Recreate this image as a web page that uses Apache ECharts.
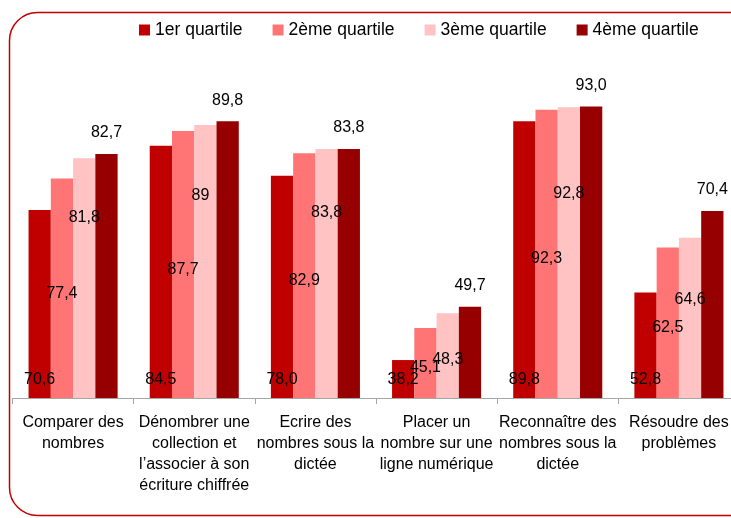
<!DOCTYPE html>
<html>
<head>
<meta charset="utf-8">
<script src="https://cdn.jsdelivr.net/npm/echarts@6/dist/echarts.min.js"></script>
<style>
  html, body { margin: 0; padding: 0; background: #fff; }
  #chart { width: 731px; height: 518px; }
</style>
</head>
<body>
<div id="chart"></div>
<script>
// categories (line breaks as in the source)
const categories = [
  "Comparer des\nnombres",
  "Dénombrer une\ncollection et\nl’associer à son\nécriture chiffrée",
  "Ecrire des\nnombres sous la\ndictée",
  "Placer un\nnombre sur une\nligne numérique",
  "Reconnaître des\nnombres sous la\ndictée",
  "Résoudre des\nproblèmes"
];
const seriesNames = ["1er quartile", "2ème quartile", "3ème quartile", "4ème quartile"];
const q1 = [70.6, 84.5, 78.0, 38.2, 89.8, 52.8];
const q2 = [77.4, 87.7, 82.9, 45.1, 92.3, 62.5];
const q3 = [81.8, 89.0, 83.8, 48.3, 92.8, 64.6];
const q4 = [82.7, 89.8, 83.8, 49.7, 93.0, 70.4];
// label text as printed in the source
const q3Text = ["81,8", "89", "83,8", "48,3", "92,8", "64,6"];

// where the 3rd quartile labels sit (offset from bar middle, px)
const q3LabelShift = [[0, -61], [-5, -66], [0, -61], [0, 4], [0, -59], [0, -18]];

const colors = ["#C00000", "#FF7575", "#FFC3C3", "#960000"];
const font = "'Liberation Sans', Arial, sans-serif";

const fmt = (v) => v.toFixed(1).replace(".", ",");

const chart = echarts.init(document.getElementById("chart"));

const baseLabel = {
  show: true,
  color: "#000",
  fontFamily: font,
  fontSize: 16
};

chart.setOption({
  animation: false,
  color: colors,
  graphic: [
    {
      type: "rect",
      shape: { x: 9.5, y: 12.5, width: 760, height: 503, r: 28 },
      style: { fill: "none", stroke: "#C00000", lineWidth: 1.5 },
      silent: true
    }
  ],
  legend: {
    data: seriesNames,
    left: 134,
    top: 16,
    icon: "rect",
    itemWidth: 11,
    itemHeight: 11,
    itemGap: 30,
    textStyle: {
      color: "#000",
      fontFamily: font,
      fontSize: 17.5
    }
  },
  grid: {
    left: 12.5,
    width: 727,
    top: 74,
    bottom: 120,
    containLabel: false,
    outerBoundsMode: "none"
  },
  xAxis: {
    type: "category",
    data: categories,
    axisLine: { lineStyle: { color: "#A6A6A6", width: 1 } },
    axisTick: { show: true, length: 6, lineStyle: { color: "#A6A6A6" } },
    axisLabel: {
      interval: 0,
      margin: 14,
      color: "#000",
      fontFamily: font,
      fontSize: 16,
      lineHeight: 21,
      hideOverlap: false
    }
  },
  yAxis: {
    type: "value",
    min: 30,
    max: 100,
    show: false,
    splitLine: { show: false }
  },
  series: [
    {
      name: seriesNames[0],
      type: "bar",
      data: q1,
      barGap: "0%",
      barCategoryGap: "26.5%",
      label: Object.assign({}, baseLabel, {
        position: "insideBottom",
        distance: 10,
        formatter: (p) => fmt(p.value)
      })
    },
    {
      name: seriesNames[1],
      type: "bar",
      data: q2,
      barGap: "0%",
      barCategoryGap: "26.5%",
      label: Object.assign({}, baseLabel, {
        position: "inside",
        offset: [0, 5],
        formatter: (p) => fmt(p.value)
      })
    },
    {
      name: seriesNames[2],
      type: "bar",
      barGap: "0%",
      barCategoryGap: "26.5%",
      data: q3.map((v, i) => ({
        value: v,
        label: { offset: q3LabelShift[i] }
      })),
      label: Object.assign({}, baseLabel, {
        position: "inside",
        formatter: (p) => q3Text[p.dataIndex]
      })
    },
    {
      name: seriesNames[3],
      type: "bar",
      data: q4,
      barGap: "0%",
      barCategoryGap: "26.5%",
      label: Object.assign({}, baseLabel, {
        position: "top",
        distance: 13,
        formatter: (p) => fmt(p.value)
      })
    }
  ]
});
</script>
</body>
</html>
